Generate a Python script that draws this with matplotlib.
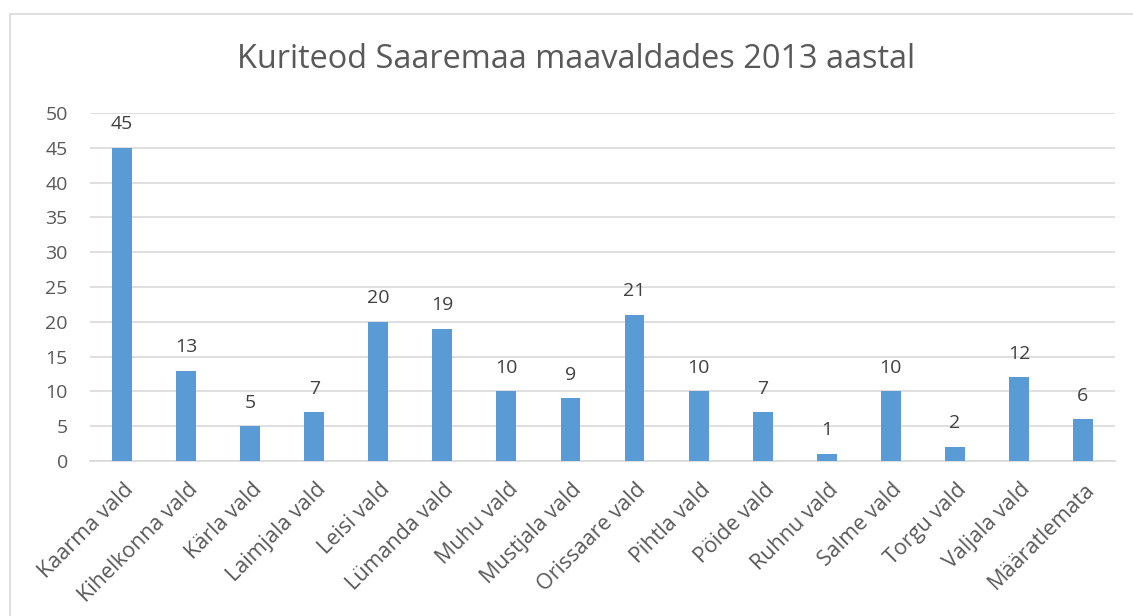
import matplotlib
matplotlib.use("Agg")
import matplotlib.pyplot as plt
import matplotlib.transforms as mtransforms
from matplotlib.patches import Rectangle

plt.rcParams["font.family"] = ["Open Sans", "DejaVu Sans"]

# --- Dados ---
vallad = ["Kaarma vald", "Kihelkonna vald", "Kärla vald", "Laimjala vald",
          "Leisi vald", "Lümanda vald", "Muhu vald", "Mustjala vald",
          "Orissaare vald", "Pihtla vald", "Pöide vald", "Ruhnu vald",
          "Salme vald", "Torgu vald", "Valjala vald", "Määratlemata"]
kuriteod = [45, 13, 5, 7, 20, 19, 10, 9, 21, 10, 7, 1, 10, 2, 12, 6]
y_ticks = [0, 5, 10, 15, 20, 25, 30, 35, 40, 45, 50]

BAR = "#5b9bd5"
TXT = "#595959"
GRID = "#d9d9d9"

W, H = 1133, 616
fig = plt.figure(figsize=(W / 100, H / 100), dpi=100)
ax = fig.add_axes([90 / W, 1 - 461 / H, (1115 - 90) / W, (461 - 113) / H])

x = range(len(vallad))
ax.bar(x, kuriteod, width=0.31, color=BAR, zorder=3)

# rótulos de valor sobre as barras
for xi, v in zip(x, kuriteod):
    ax.annotate(str(v), xy=(xi, v), xytext=(0, 10.5), textcoords="offset points",
                ha="center", va="bottom", fontsize=14, color="#404040")

ax.set_xlim(-0.5, len(vallad) - 0.5)
ax.set_ylim(0, 50)
ax.set_yticks(y_ticks)
ax.set_xticks(list(x))
ax.set_xticklabels(vallad, rotation=45, ha="right", rotation_mode="anchor",
                   fontsize=15.5, color=TXT)
ax.tick_params(axis="y", length=0, pad=16, labelsize=14, labelcolor=TXT)
ax.tick_params(axis="x", length=0, pad=13)

# leve ajuste horizontal dos rótulos do eixo x
desloc = mtransforms.ScaledTranslation(1 / 100, 0, fig.dpi_scale_trans)
for lbl in ax.get_xticklabels():
    lbl.set_transform(lbl.get_transform() + desloc)

ax.grid(axis="y", color=GRID, linewidth=1.2, zorder=0)
for s in ["top", "right", "left"]:
    ax.spines[s].set_visible(False)
ax.spines["bottom"].set_color(GRID)
ax.spines["bottom"].set_linewidth(1.2)

fig.text((238 + 915) / 2 / W, 1 - 60 / H,
         "Kuriteod Saaremaa maavaldades 2013 aastal",
         ha="center", va="center", fontsize=23.4, color=TXT)

# moldura do gráfico
fig.add_artist(Rectangle((10 / W, -0.1), 2, 1.1 - 14 / H,
                         transform=fig.transFigure, fill=False,
                         edgecolor=GRID, linewidth=1.2))

fig.savefig("out.png", dpi=100)
